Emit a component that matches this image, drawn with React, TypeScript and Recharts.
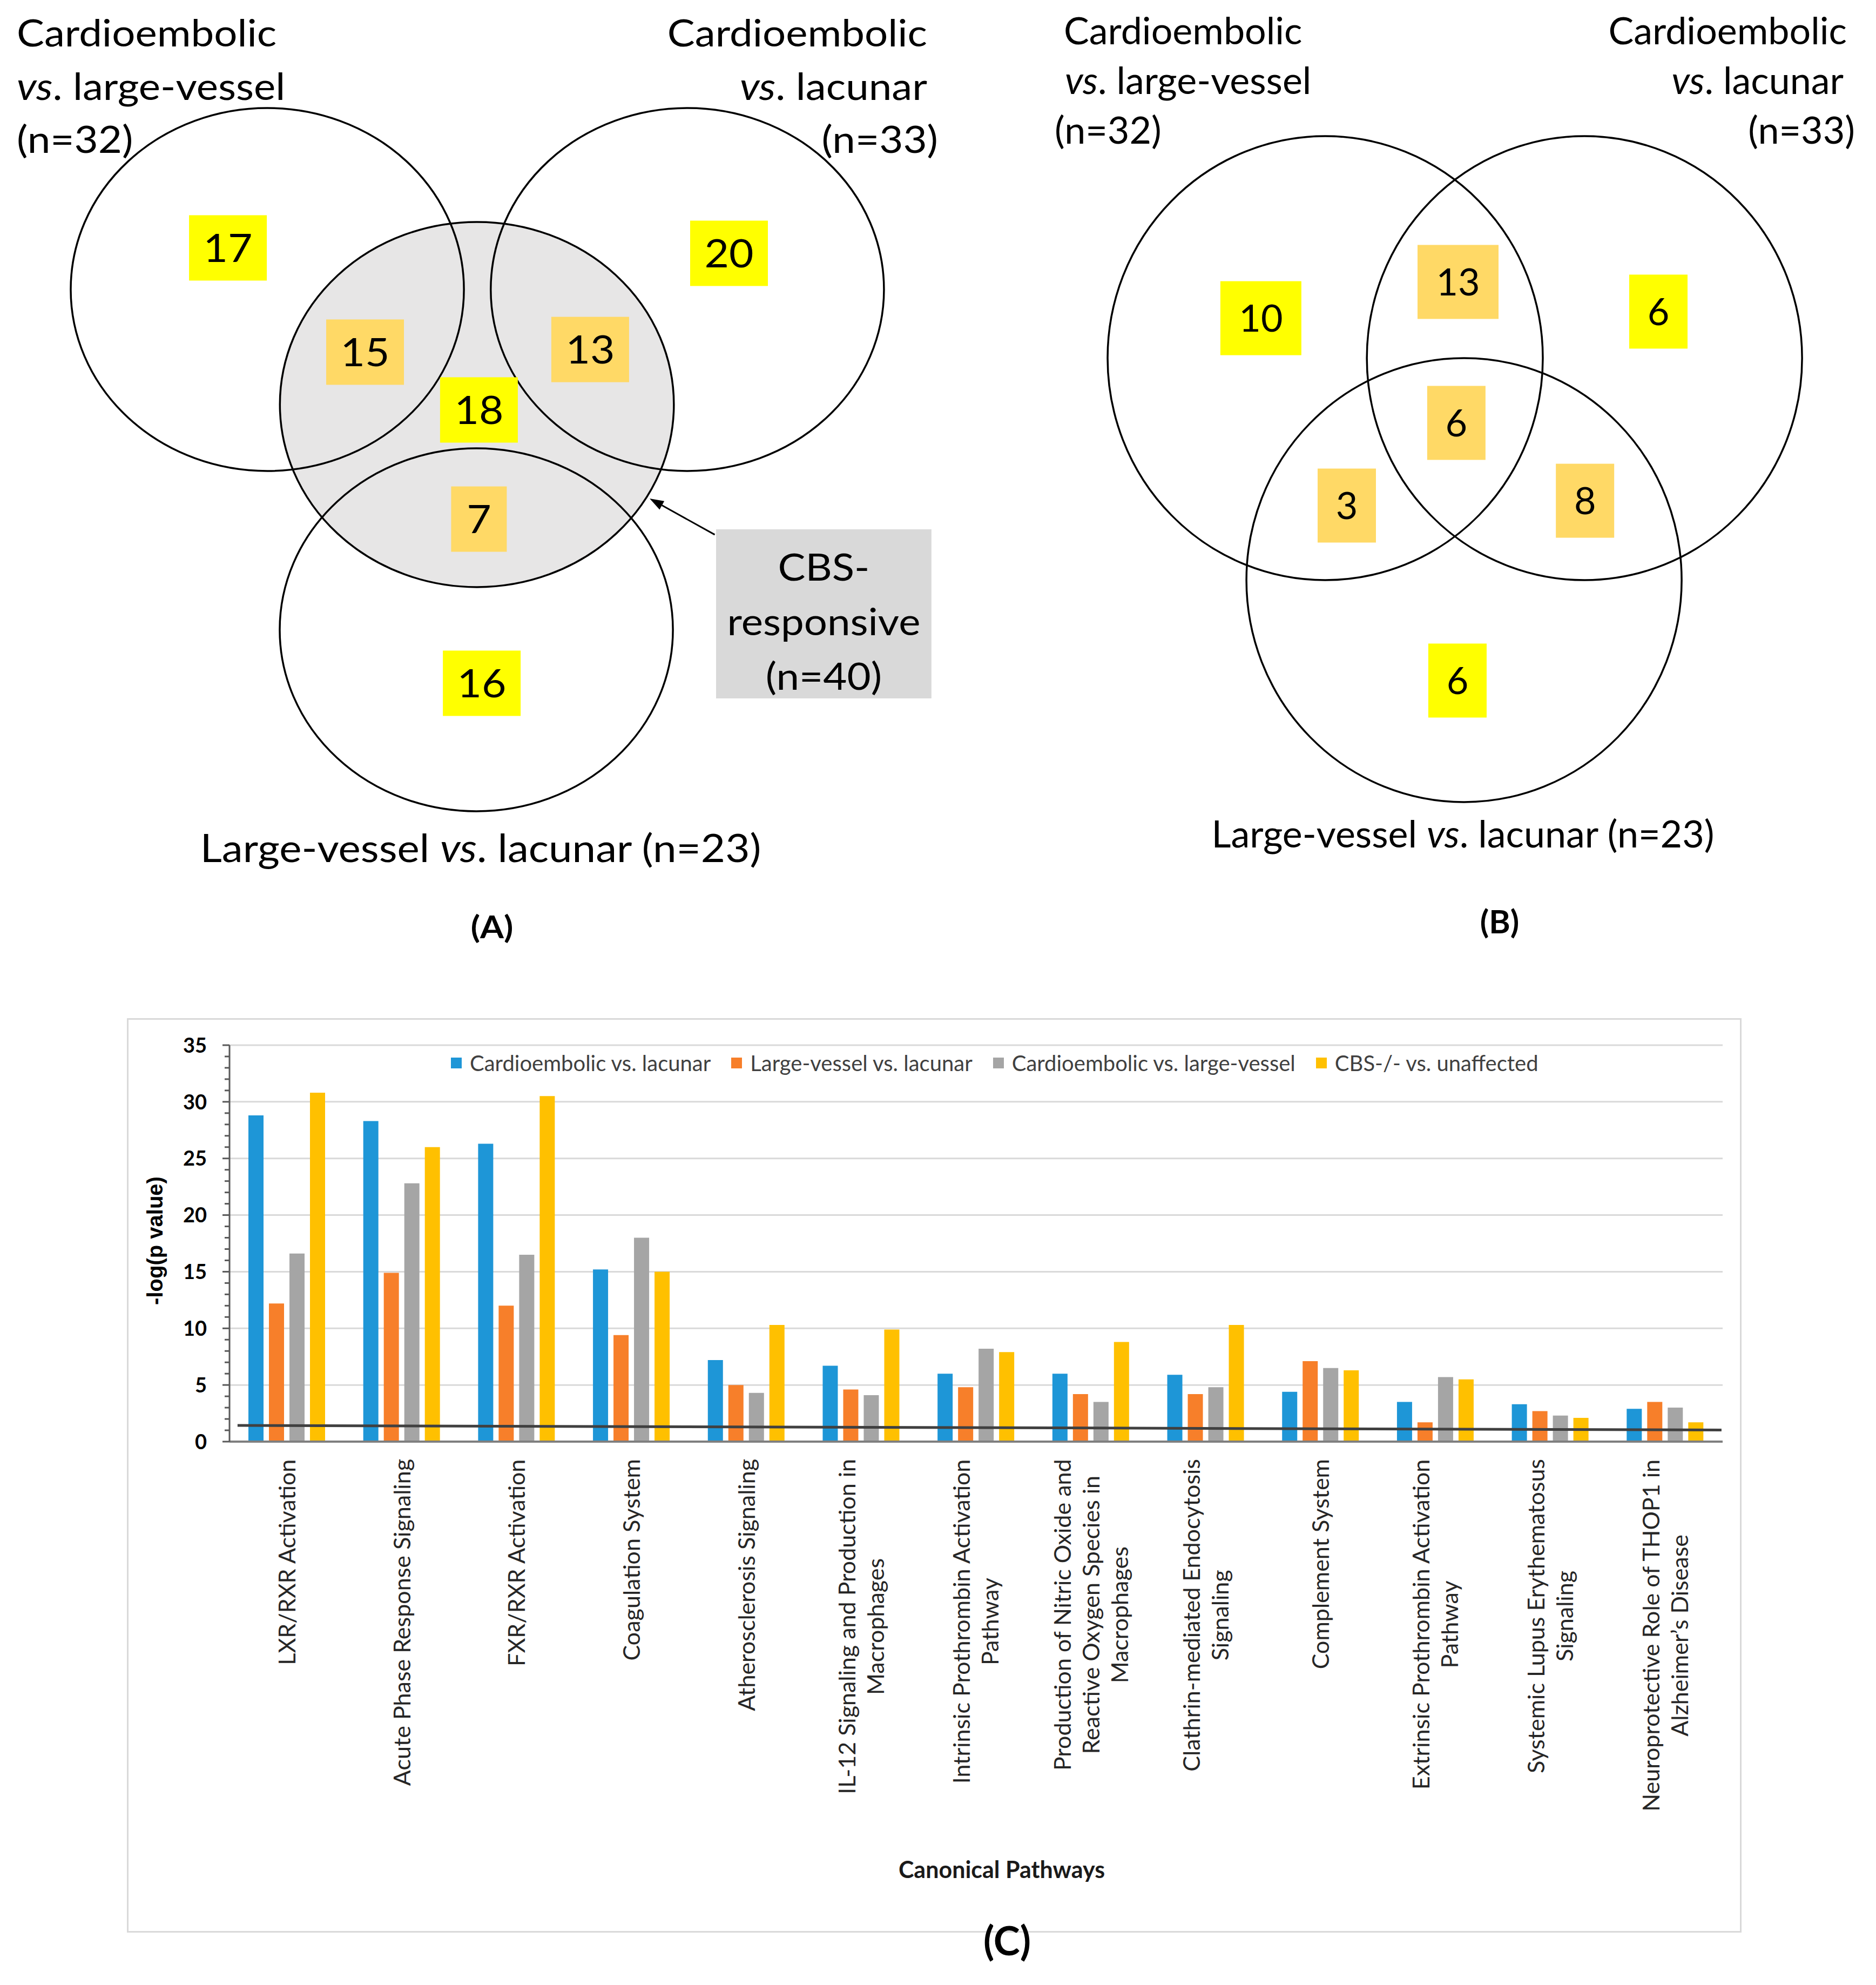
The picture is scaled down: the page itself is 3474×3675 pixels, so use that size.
import React from "react";
import {
  BarChart,
  Bar,
  XAxis,
  YAxis,
  CartesianGrid,
  Legend,
  ReferenceLine,
  ReferenceArea,
  ScatterChart,
  Scatter,
} from "recharts";

const FONT = "Lato, 'Noto Sans', sans-serif";

// ---------- (A) / (B) Venn diagrams, positions in % of the top panel ----------
const vennCirclesA = [
  { x: 14.25, y: 29.94, rx: 10.48, ry: 18.77 }, // cardioembolic vs. large-vessel
  { x: 36.64, y: 29.94, rx: 10.48, ry: 18.77 }, // cardioembolic vs. lacunar
  { x: 25.39, y: 65.14, rx: 10.48, ry: 18.77 }, // large-vessel vs. lacunar
];
const cbsCircle = [{ x: 25.42, y: 41.84, rx: 10.5, ry: 18.88 }];
const vennCirclesB = [
  { x: 70.64, y: 37.04, rx: 11.6, ry: 22.96 },
  { x: 84.46, y: 37.04, rx: 11.6, ry: 22.96 },
  { x: 78.04, y: 60.0, rx: 11.6, ry: 22.96 },
];
const countsA = [
  { x: 12.15, y: 25.64, n: 17, shared: false },
  { x: 38.86, y: 26.2, n: 20, shared: false },
  { x: 19.46, y: 36.42, n: 15, shared: true },
  { x: 31.46, y: 36.15, n: 13, shared: true },
  { x: 25.53, y: 42.4, n: 18, shared: false },
  { x: 25.53, y: 53.69, n: 7, shared: true },
  { x: 25.68, y: 70.67, n: 16, shared: false },
];
const countsB = [
  { x: 67.21, y: 32.91, n: 10, shared: false },
  { x: 77.72, y: 29.16, n: 13, shared: true },
  { x: 88.4, y: 32.23, n: 6, shared: false },
  { x: 77.63, y: 43.74, n: 6, shared: true },
  { x: 71.79, y: 52.29, n: 3, shared: true },
  { x: 84.49, y: 51.79, n: 8, shared: true },
  { x: 77.69, y: 70.39, n: 6, shared: false },
];
const cbsBox = { x1: 38.17, x2: 49.65, y1: 54.75, y2: 72.23 };
const cbsBoxLines = ["CBS-", "responsive", "(n=40)"];
const cbsArrow = [
  { x: 38.1, y: 55.3 },
  { x: 34.63, y: 51.56 },
];

// ---------- (C) canonical pathways ----------
const pathways = [
  "LXR/RXR Activation",
  "Acute Phase Response Signaling",
  "FXR/RXR Activation",
  "Coagulation System",
  "Atherosclerosis Signaling",
  "IL-12 Signaling and Production in\nMacrophages",
  "Intrinsic Prothrombin Activation\nPathway",
  "Production of Nitric Oxide and\nReactive Oxygen Species in\nMacrophages",
  "Clathrin-mediated Endocytosis\nSignaling",
  "Complement System",
  "Extrinsic Prothrombin Activation\nPathway",
  "Systemic Lupus Erythematosus\nSignaling",
  "Neuroprotective Role of THOP1 in\nAlzheimer\u2019s Disease",
];
const ceVsLacunar = [28.8, 28.3, 26.3, 15.2, 7.2, 6.7, 6.0, 6.0, 5.9, 4.4, 3.5, 3.3, 2.9];
const lvVsLacunar = [12.2, 14.9, 12.0, 9.4, 5.0, 4.6, 4.8, 4.2, 4.2, 7.1, 1.7, 2.7, 3.5];
const ceVsLv = [16.6, 22.8, 16.5, 18.0, 4.3, 4.1, 8.2, 3.5, 4.8, 6.5, 5.7, 2.3, 3.0];
const cbsVsUnaffected = [30.8, 26.0, 30.5, 15.0, 10.3, 9.9, 7.9, 8.8, 10.3, 6.3, 5.5, 2.1, 1.7];
const yTicks = Array.from({ length: 36 }, (_, i) => i);
const gridValues = [5, 10, 15, 20, 25, 30, 35];
// significance line, value at the first and last category centre
const threshold = [1.42, 1.045];

const series = [
  { key: "ceLac", name: "Cardioembolic vs. lacunar", color: "#1E96D7" },
  { key: "lvLac", name: "Large-vessel vs. lacunar", color: "#F77F2A" },
  { key: "ceLv", name: "Cardioembolic vs. large-vessel", color: "#A5A5A5" },
  { key: "cbs", name: "CBS-/- vs. unaffected", color: "#FFC000" },
];

const barData = pathways.map((name, i) => ({
  name,
  ceLac: ceVsLacunar[i],
  lvLac: lvVsLacunar[i],
  ceLv: ceVsLv[i],
  cbs: cbsVsUnaffected[i],
}));

const VENN_W = 3474;
const VENN_H = 1790;

let measureCtx: CanvasRenderingContext2D | null = null;
function textWidth(s: string, font: string) {
  if (!measureCtx) measureCtx = document.createElement("canvas").getContext("2d");
  if (!measureCtx) return s.length * 20;
  measureCtx.font = font;
  return measureCtx.measureText(s).width;
}

function VText({ x, y, anchor = "start", size = 70, sx = 1, bold = false, children }: any) {
  return (
    <text
      transform={`translate(${x},${y}) scale(${sx},1)`}
      textAnchor={anchor}
      fontFamily={FONT}
      fontSize={size}
      fontWeight={bold ? 700 : 400}
      fill="#000"
    >
      {children}
    </text>
  );
}

const ring = (fill: string, stroke: string) => (p: any) => (
  <ellipse
    cx={p.cx}
    cy={p.cy}
    rx={(p.payload.rx * VENN_W) / 100}
    ry={(p.payload.ry * VENN_H) / 100}
    fill={fill}
    stroke={stroke}
    strokeWidth={3.5}
  />
);

const countBox = (cfg: { wide: number; narrow: number; h: number; size: number; sx: number }) => (p: any) => {
  const label = String(p.payload.n);
  const w = label.length > 1 ? cfg.wide : cfg.narrow;
  return (
    <g>
      <rect x={p.cx - w / 2} y={p.cy - cfg.h / 2} width={w} height={cfg.h} fill={p.payload.shared ? "#FFD966" : "#FFFF00"} />
      <text
        transform={`translate(${p.cx},${p.cy}) scale(${cfg.sx},1)`}
        textAnchor="middle"
        dy="0.36em"
        fontFamily={FONT}
        fontSize={cfg.size}
        fill="#000"
      >
        {label}
      </text>
    </g>
  );
};

const arrowShape = (p: any) => {
  const { x1, y1, x2, y2 } = p;
  const ang = Math.atan2(y2 - y1, x2 - x1);
  const len = 26;
  const half = 9;
  const bx = x2 - len * Math.cos(ang);
  const by = y2 - len * Math.sin(ang);
  const pts = [
    [x2, y2],
    [bx + half * Math.sin(ang), by - half * Math.cos(ang)],
    [bx - half * Math.sin(ang), by + half * Math.cos(ang)],
  ]
    .map((q) => q.join(","))
    .join(" ");
  return (
    <g>
      <line x1={x1} y1={y1} x2={bx} y2={by} stroke="#000" strokeWidth={3} />
      <polygon points={pts} fill="#000" />
    </g>
  );
};

function CbsLabel({ viewBox }: any) {
  if (!viewBox) return null;
  const cx = viewBox.x + viewBox.width / 2;
  return (
    <g>
      {cbsBoxLines.map((l, i) => (
        <VText key={l} x={cx} y={viewBox.y + 95 + i * 101} anchor="middle" sx={1.09}>
          {l}
        </VText>
      ))}
    </g>
  );
}

function VennPanels() {
  const sxA = 1.09;
  return (
    <ScatterChart width={VENN_W} height={VENN_H} margin={{ top: 0, right: 0, bottom: 0, left: 0 }}>
      <XAxis type="number" dataKey="x" domain={[0, 100]} hide />
      <YAxis type="number" dataKey="y" domain={[0, 100]} reversed hide />
      <ReferenceArea {...cbsBox} fill="#D9D9D9" fillOpacity={1} stroke="none" label={<CbsLabel />} />
      <ReferenceLine segment={cbsArrow} shape={arrowShape} />
      <Scatter data={cbsCircle} shape={ring("#E7E6E6", "none")} isAnimationActive={false} />
      <Scatter data={[...vennCirclesA, ...cbsCircle, ...vennCirclesB]} shape={ring("none", "#000")} isAnimationActive={false} />
      <Scatter data={countsA} shape={countBox({ wide: 144, narrow: 103, h: 121, size: 72, sx: sxA })} isAnimationActive={false} />
      <Scatter data={countsB} shape={countBox({ wide: 150, narrow: 108, h: 137, size: 70, sx: 1 })} isAnimationActive={false} />

      {/* panel A labels */}
      <VText x={31} y={86} sx={sxA}>Cardioembolic</VText>
      <VText x={31} y={185} sx={sxA}>
        <tspan fontStyle="italic">vs</tspan>. large-vessel
      </VText>
      <VText x={31} y={283} sx={sxA}>(n=32)</VText>
      <VText x={1717} y={86} anchor="end" sx={sxA}>Cardioembolic</VText>
      <VText x={1717} y={185} anchor="end" sx={sxA}>
        <tspan fontStyle="italic">vs</tspan>. lacunar
      </VText>
      <VText x={1737} y={283} anchor="end" sx={sxA}>(n=33)</VText>
      <VText x={890} y={1596} anchor="middle" size={71} sx={1.1}>
        Large-vessel <tspan fontStyle="italic">vs</tspan>. lacunar (n=23)
      </VText>
      <VText x={911} y={1737} anchor="middle" size={58} sx={sxA} bold>(A)</VText>

      {/* panel B labels */}
      <VText x={1970} y={82}>Cardioembolic</VText>
      <VText x={1972} y={174}>
        <tspan fontStyle="italic">vs</tspan>. large-vessel
      </VText>
      <VText x={1953} y={266}>(n=32)</VText>
      <VText x={3420} y={82} anchor="end">Cardioembolic</VText>
      <VText x={3414} y={174} anchor="end">
        <tspan fontStyle="italic">vs</tspan>. lacunar
      </VText>
      <VText x={3435} y={266} anchor="end">(n=33)</VText>
      <VText x={2709} y={1569} anchor="middle">
        Large-vessel <tspan fontStyle="italic">vs</tspan>. lacunar (n=23)
      </VText>
      <VText x={2777} y={1728} anchor="middle" size={60} bold>(B)</VText>
    </ScatterChart>
  );
}

const TICK_FONT = 43;
const TICK_LINE = 53;
const TICK_TOP = 32;

function PathwayTick({ x, y, payload }: any) {
  const lines = String(payload.value).split("\n");
  const font = `${TICK_FONT}px Lato`;
  const maxLen = Math.max(...lines.map((l) => textWidth(l, font)));
  const mid = y + TICK_TOP + maxLen / 2;
  return (
    <g>
      {lines.map((l, i) => {
        const lx = x + (i - (lines.length - 1) / 2) * TICK_LINE;
        return (
          <text
            key={i}
            x={lx}
            y={mid}
            transform={`rotate(-90, ${lx}, ${mid})`}
            textAnchor="middle"
            dy="0.36em"
            fontFamily={FONT}
            fontSize={TICK_FONT}
            fill="#262626"
          >
            {l}
          </text>
        );
      })}
    </g>
  );
}

function ValueTick({ x, y, payload }: any) {
  const v = payload.value;
  const major = v % 5 === 0;
  return (
    <g>
      <line x1={x - (major ? 13 : 9)} x2={x} y1={y} y2={y} stroke="#595959" strokeWidth={3} />
      {major && (
        <text x={x - 42} y={y} dy="0.36em" textAnchor="end" fontFamily={FONT} fontWeight={700} fontSize={38} fill="#000">
          {v}
        </text>
      )}
    </g>
  );
}

function LegendRow() {
  return (
    <div style={{ display: "flex", alignItems: "center", fontFamily: FONT, fontSize: 40, color: "#404040", whiteSpace: "nowrap" }}>
      {series.map((s) => (
        <div key={s.key} style={{ display: "flex", alignItems: "center", marginRight: 38 }}>
          <span style={{ width: 20, height: 20, background: s.color, marginRight: 15, display: "inline-block" }} />
          <span>{s.name}</span>
        </div>
      ))}
    </div>
  );
}

// the significance line runs from just inside the first band to the plot's right edge
const thresholdShape = (p: any) => {
  const { x1, y1, x2, y2 } = p;
  const step = (x2 - x1) / (pathways.length - 1);
  const slope = (y2 - y1) / (x2 - x1);
  const ax = x1 - 0.43 * step;
  const bx = x2 + 0.49 * step;
  return <line x1={ax} y1={y1 + slope * (ax - x1)} x2={bx} y2={y1 + slope * (bx - x1)} stroke="#404040" strokeWidth={5} />;
};

const C_LEFT = 235;
const C_TOP = 1885;
const C_W = 2990;
const C_H = 1775;

function PathwayChart() {
  return (
    <BarChart
      width={C_W}
      height={C_H}
      data={barData}
      margin={{ top: 50, right: 35, bottom: 111, left: 90 }}
      barSize={28}
      barGap={10}
    >
      <CartesianGrid vertical={false} horizontalValues={gridValues} stroke="#D9D9D9" strokeWidth={3} />
      <XAxis
        dataKey="name"
        interval={0}
        height={880}
        tickLine={false}
        tickSize={0}
        tickMargin={0}
        axisLine={{ stroke: "#7F7F7F", strokeWidth: 4 }}
        tick={(p: any) => <PathwayTick {...p} />}
      />
      <YAxis
        width={100}
        domain={[0, 35]}
        ticks={yTicks}
        interval={0}
        tickLine={false}
        tickSize={0}
        tickMargin={0}
        axisLine={{ stroke: "#595959", strokeWidth: 3 }}
        tick={(p: any) => <ValueTick {...p} />}
      />
      <Legend
        layout="horizontal"
        verticalAlign="middle"
        align="center"
        wrapperStyle={{ top: 59, left: 600, width: 2300, height: 50 }}
        content={() => <LegendRow />}
      />
      {series.map((s) => (
        <Bar key={s.key} dataKey={s.key} name={s.name} fill={s.color} isAnimationActive={false} />
      ))}
      <ReferenceLine
        segment={[
          { x: pathways[0], y: threshold[0] },
          { x: pathways[pathways.length - 1], y: threshold[1] },
        ]}
        shape={thresholdShape}
        ifOverflow="visible"
      />
      <text
        transform="translate(52,412) rotate(-90)"
        textAnchor="middle"
        dy="0.36em"
        fontFamily="'Liberation Sans', Arial, sans-serif"
        fontWeight={700}
        fontSize={40}
        fill="#000"
      >
        -log(p value)
      </text>
      <text x={1620} y={1592} textAnchor="middle" fontFamily={FONT} fontWeight={700} fontSize={43} fill="#1a1a1a">
        Canonical Pathways
      </text>
      <text x={1630} y={1735} textAnchor="middle" fontFamily={FONT} fontWeight={700} fontSize={74} fill="#000">
        (C)
      </text>
    </BarChart>
  );
}

export default function App() {
  return (
    <div style={{ position: "absolute", left: 0, top: 0, width: 3474, height: 3675, background: "#fff", overflow: "hidden" }}>
      <div style={{ position: "absolute", left: 0, top: 0 }}>
        <VennPanels />
      </div>
      <div
        style={{
          position: "absolute",
          left: C_LEFT,
          top: C_TOP,
          width: C_W,
          height: 1693,
          border: "3px solid #D9D9D9",
          boxSizing: "border-box",
        }}
      />
      <div style={{ position: "absolute", left: C_LEFT, top: C_TOP }}>
        <PathwayChart />
      </div>
    </div>
  );
}
